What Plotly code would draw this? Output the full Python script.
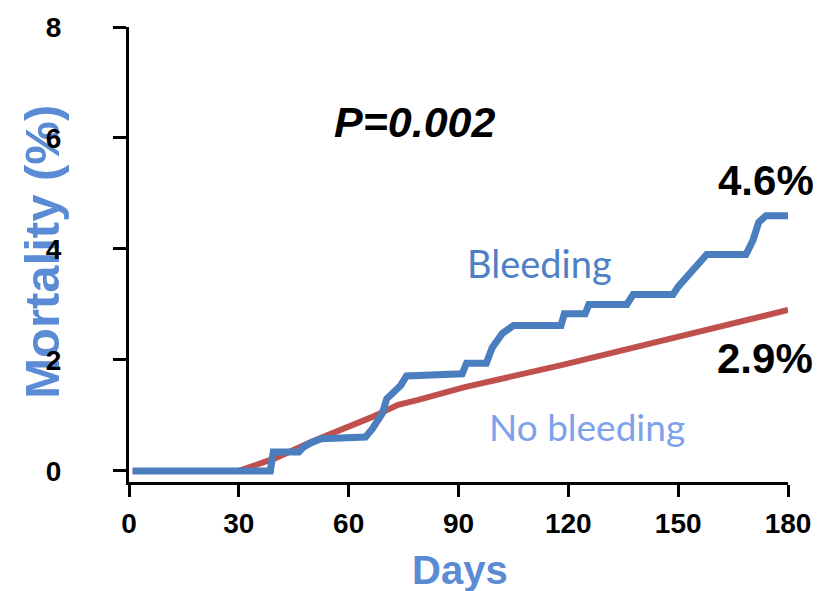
import plotly.graph_objects as go

# Cumulative mortality (%) by day after the index procedure
bleed_days = [1, 38.6, 39.4, 46.4, 47.5, 49.5, 52.5, 64.6, 66.5, 69.2, 70.4, 72.3, 74.2, 75.8,
              91.0, 92.2, 97.6, 99.2, 102.0, 105.0, 118.0, 118.9, 124.6, 125.6, 136.0, 137.7,
              148.6, 150.0, 152.7, 157.8, 168.5, 170.4, 172.0, 174.0, 180]
bleed_mort = [0.0, 0.0, 0.34, 0.34, 0.42, 0.50, 0.58, 0.61, 0.76, 1.04, 1.30, 1.42, 1.54, 1.71,
              1.75, 1.94, 1.94, 2.22, 2.48, 2.62, 2.62, 2.83, 2.83, 3.00, 3.00, 3.18,
              3.18, 3.32, 3.53, 3.90, 3.90, 4.15, 4.48, 4.6, 4.6]

nobleed_days = [1, 30, 40, 50, 66, 73.5, 79, 91.7, 119, 141.6, 164.3, 180]
nobleed_mort = [0.0, 0.0, 0.23, 0.53, 0.96, 1.19, 1.28, 1.51, 1.92, 2.29, 2.65, 2.9]

x_ticks = [0, 30, 60, 90, 120, 150, 180]
y_ticks = [0, 2, 4, 6, 8]

bleed_label = "4.6%"
nobleed_label = "2.9%"
p_label = "P=0.002"

BLUE = "#4A7EBF"
RED = "#C0504D"
TITLE_BLUE = "#5A8BD4"
SANS = "Liberation Sans, Arial"

fig = go.Figure()
fig.add_trace(go.Scatter(x=nobleed_days, y=nobleed_mort, mode="lines",
                         line=dict(color=RED, width=6), name="No bleeding"))
fig.add_trace(go.Scatter(x=bleed_days, y=bleed_mort, mode="lines",
                         line=dict(color=BLUE, width=7), name="Bleeding"))

tick_font = dict(family=SANS, size=28, color="black", weight="bold")

fig.update_xaxes(range=[0, 180], tickvals=x_ticks, showline=True, linewidth=3, linecolor="black",
                 ticks="outside", ticklen=12, tickwidth=3, tickcolor="black",
                 showgrid=False, zeroline=False, tickfont=tick_font, ticklabelstandoff=2)
fig.update_yaxes(range=[-0.2, 8], tickvals=y_ticks, showline=True, linewidth=3, linecolor="black",
                 ticks="outside", ticklen=13, tickwidth=3, tickcolor="black",
                 showgrid=False, zeroline=False, tickfont=tick_font, ticklabelstandoff=46)


def note(x, y, text, font, ref="data", angle=0):
    r = ("x", "y") if ref == "data" else ("paper", "paper")
    return dict(x=x, y=y, xref=r[0], yref=r[1], text=text, showarrow=False,
                xanchor="center", yanchor="middle", textangle=angle, font=font)


annotations = [
    note(77.9, 6.28, p_label, dict(family=SANS, size=43, color="black", weight="bold",
                                   style="italic")),
    note(bleed_days[-1] - 6.0, 5.24, bleed_label,
         dict(family=SANS, size=42, color="black", weight="bold")),
    note(nobleed_days[-1] - 6.4, 2.02, nobleed_label,
         dict(family=SANS, size=42, color="black", weight="bold")),
    note(112, 3.75, "Bleeding", dict(family="Lato, Open Sans", size=38, color="#4F7FC4")),
    note(125, 0.8, "No bleeding", dict(family="Lato, Open Sans", size=37, color="#7DA2EB")),
    note(0.503, -0.194, "Days", dict(family=SANS, size=40, color=TITLE_BLUE, weight="bold"),
         ref="paper"),
]

# The y title sits underneath the axis layer so the tick digits stay readable over it
y_title_shape = dict(
    type="rect", xref="paper", yref="paper", layer="below",
    x0=-0.174, x1=-0.104, y0=0.1, y1=0.912,
    line=dict(width=0), fillcolor="rgba(0,0,0,0)",
    label=dict(text="Mortality (%)", textangle=-90, textposition="middle center",
               font=dict(family=SANS, size=49, color=TITLE_BLUE, weight="bold")),
)

fig.update_layout(
    width=823, height=591,
    margin=dict(l=128.5, r=33, t=16, b=109.3),
    plot_bgcolor="white", paper_bgcolor="white",
    showlegend=False,
    annotations=annotations,
    shapes=[y_title_shape],
)

fig.write_html("out.html")
